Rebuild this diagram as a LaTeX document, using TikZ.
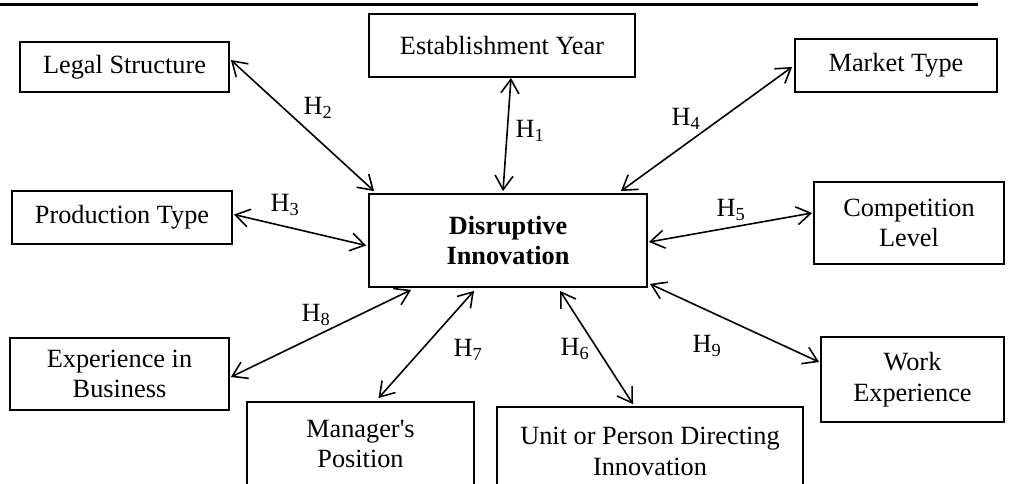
\documentclass[tikz,border=0pt]{standalone}
\usepackage{fontspec}
\setmainfont{Liberation Serif}[Ligatures=TeXOff]
\usetikzlibrary{arrows.meta,calc}
\begin{document}
\begin{tikzpicture}[x=1pt, y=-1pt, font=\fontsize{26.3}{30.5}\selectfont,
    >={Straight Barb[length=14pt,width=18pt]},
    box/.style={draw, line width=1.8pt, align=center, inner sep=0pt},
    lnk/.style={<->, line width=1.6pt},
    hyp/.style={inner sep=0pt}]
  \useasboundingbox (0,0) rectangle (1012,484);
  \clip (0,0) rectangle (1012,484);
  \draw[line width=3pt] (0,5) -- (978,5);
  % construct in the middle
  \node[box, minimum width=278pt, minimum height=93pt,
        font=\fontsize{26.3}{30.5}\selectfont\bfseries] (di) at (508,240.5) {Disruptive\\Innovation};
  % firm and manager characteristics around it
  \node[box, minimum width=266pt, minimum height=63pt] (estab) at (502,45.5) {Establishment Year};
  \node[box, minimum width=209pt, minimum height=50pt] (legal) at (124.5,67) {Legal Structure};
  \node[box, minimum width=202pt, minimum height=53pt] (market) at (896,65.5) {Market Type};
  \node[box, minimum width=220pt, minimum height=53pt] (prod) at (122,217.5) {Production Type};
  \node[box, minimum width=190pt, minimum height=82pt] (comp) at (909,223) {Competition\\Level};
  \node[box, minimum width=219pt, minimum height=72pt] (expb) at (119.5,374) {Experience in\\Business};
  \node[box, minimum width=183pt, minimum height=85pt] (work) at (912.5,379.5) {Work\\Experience};
  \node[box, minimum width=227pt, minimum height=84pt] (mgr) at (360.5,444) {Manager's\\Position};
  \node[box, minimum width=306pt, minimum height=89pt] (unit) at (650,451.5) {Unit or Person Directing\\Innovation};
  % hypotheses
  \draw[lnk] ($(estab.south)+(9,0)$) -- ($(di.north)+(-5,-2)$);
  \draw[lnk] ($(legal.east)+(1,-7)$) -- ($(di.north west)+(6,-2)$);
  \draw[lnk] ($(prod.east)+(1,-3)$) -- ($(di.west)+(-2,5)$);
  \draw[lnk] ($(di.north east)+(-27,-2)$) -- ($(market.west)+(-2,1.5)$);
  \draw[lnk] ($(di.east)+(1,1.5)$) -- ($(comp.west)+(-1,-10)$);
  \draw[lnk] ($(di.south)+(52,3)$) -- ($(unit.north)+(-17,-2)$);
  \draw[lnk] ($(di.south)+(-34,3)$) -- ($(mgr.north)+(18,-3)$);
  \draw[lnk] ($(di.south west)+(43,2)$) -- ($(expb.east)+(1,3)$);
  \draw[lnk] ($(di.south east)+(2,-4)$) -- ($(work.west)+(-1,-17.5)$);
  \node[hyp] (h1) at (530,131) {H\textsubscript{1}};
  \node[hyp] (h2) at (318,108) {H\textsubscript{2}};
  \node[hyp] (h3) at (285,205) {H\textsubscript{3}};
  \node[hyp] (h4) at (686,119) {H\textsubscript{4}};
  \node[hyp] (h5) at (731,210) {H\textsubscript{5}};
  \node[hyp] (h6) at (575,349) {H\textsubscript{6}};
  \node[hyp] (h7) at (468,350) {H\textsubscript{7}};
  \node[hyp] (h8) at (316,315) {H\textsubscript{8}};
  \node[hyp] (h9) at (707,346) {H\textsubscript{9}};
\end{tikzpicture}
\end{document}
